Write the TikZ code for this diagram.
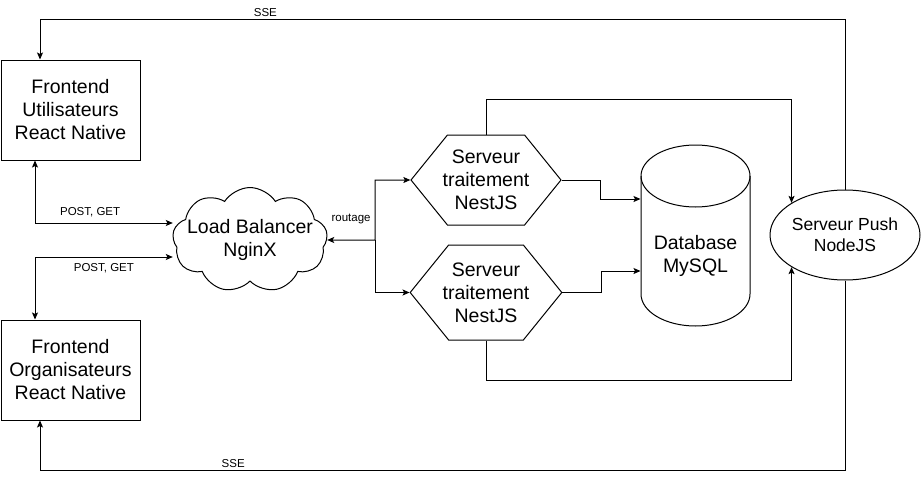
\documentclass[tikz,border=0pt]{standalone}
\usepackage{fontspec}
\setmainfont{Liberation Sans}
\usetikzlibrary{shapes.geometric,shapes.symbols,arrows.meta}

\tikzset{
  arr/.style={-{Stealth[length=7pt,width=6pt,inset=1.5pt]}},
  arr2/.style={{Stealth[length=7pt,width=6pt,inset=1.5pt]}-{Stealth[length=7pt,width=6pt,inset=1.5pt]}},
  bigtxt/.style={align=center,font=\fontsize{19.5}{23}\selectfont},
  lbl/.style={font=\fontsize{11.5}{13}\selectfont,inner sep=2pt},
  box/.style={bigtxt,draw,rectangle,minimum width=139,minimum height=100},
  hexa/.style={bigtxt,draw,signal,signal to=west and east,signal pointer angle=102,minimum width=150,inner ysep=0,inner xsep=-6},
}

\begin{document}
\begin{tikzpicture}[x=1pt,y=-1pt,line width=1pt]
  \useasboundingbox (0,0) rectangle (921,479);
  \node[box] (fu) at (70.5,110) {Frontend\\Utilisateurs\\React Native};
  \node[box] (fo) at (70.5,370) {Frontend\\Organisateurs\\React Native};
  \node[bigtxt,draw,cloud,cloud puffs=9,cloud puff arc=115,aspect=1.6,inner xsep=-15,inner ysep=-4,minimum width=155,minimum height=96] (lb) at (250,240) {Load Balancer\\NginX};
  \node[hexa,minimum height=90] (h1) at (486,180) {Serveur\\traitement\\NestJS};
  \node[hexa,minimum height=95] (h2) at (486,292.5) {Serveur\\traitement\\NestJS};
  \node[bigtxt,minimum width=109] (db) at (695.5,256) {Database\\MySQL};
  \node[draw,ellipse,minimum width=150,minimum height=90,inner sep=0,align=center,font=\fontsize{17.5}{21}\selectfont] (push) at (845,235) {Serveur Push\\NodeJS};

  % cylinder of the database
  \draw (695.5,176) ellipse[x radius=54.5,y radius=31];
  \draw (641,176) -- (641,294) arc[start angle=180,end angle=0,x radius=54.5,y radius=32] -- (750,176);

  % SSE
  \draw[arr] (push.north) |- ([xshift=-30.5,yshift=40]fu.north) node[lbl,above,pos=0.86] {SSE} -- ([xshift=-30.5]fu.north);
  \draw[arr] (push.south) |- ([xshift=-30.5,yshift=-50]fo.south) node[lbl,above,pos=0.88] {SSE} -- ([xshift=-30.5]fo.south);

  % POST, GET
  \draw[arr2] ([xshift=-35.5]fu.south) |- ([yshift=17]lb.west) node[lbl,above,yshift=4,pos=0.70] {POST, GET};
  \draw[arr2] ([yshift=-17]lb.west) -| ([xshift=-35.5]fo.north) node[lbl,below,yshift=-4,pos=0.25] {POST, GET};

  % routage
  \draw[arr2] (lb.east) -- node[lbl,above,yshift=14] {routage} (375,240) coordinate (split) |- (h1.west);
  \draw[arr] (split) |- (h2.west);

  \draw[arr] (h1.east) -- ++(39,0) |- ([yshift=57]db.west);
  \draw[arr] (h2.east) -- ++(39,0) |- ([yshift=-15]db.west);
  \draw[arr] (h1.north) -- ++(0,-35) -| (push.149);
  \draw[arr] (h2.south) -- ++(0,40) -| (push.211);
\end{tikzpicture}
\end{document}
